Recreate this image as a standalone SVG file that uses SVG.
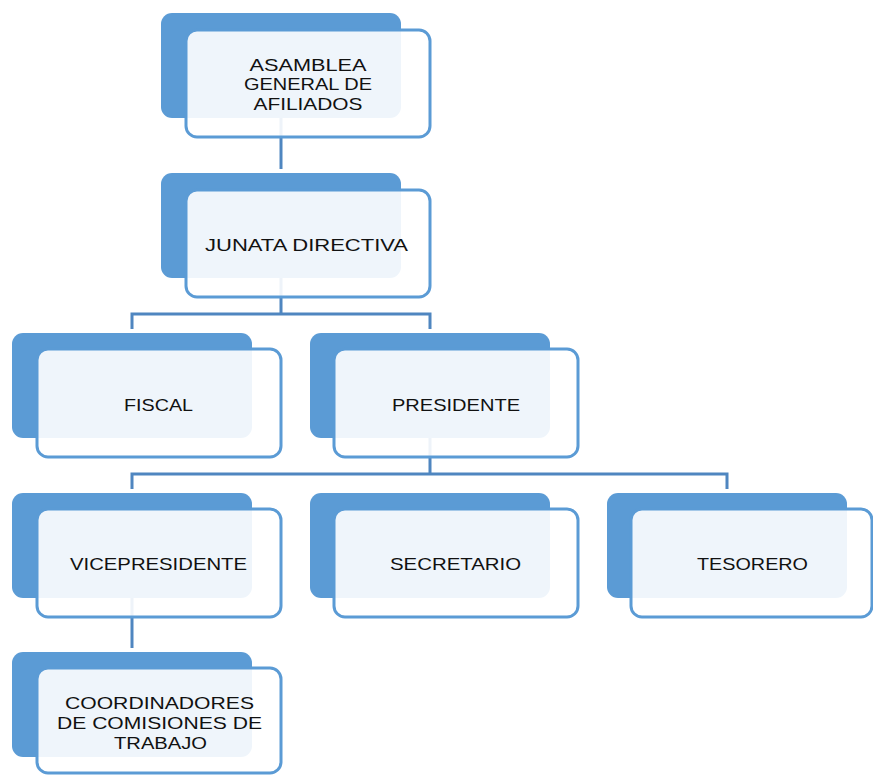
<svg xmlns="http://www.w3.org/2000/svg" width="873" height="775" viewBox="0 0 873 775">
<style>
.back{fill:#5b9bd5}
.front{fill:#ffffff;fill-opacity:0.9;stroke:#5b9bd5;stroke-width:3}
.lbl{font-family:"Liberation Sans",Arial,sans-serif;font-size:17px;fill:#111;text-anchor:middle}
.conn{fill:none;stroke:#4f86c0;stroke-width:3}
</style>
<rect width="873" height="775" fill="#ffffff"/>
<g id="connectors">
<path class="conn" d="M281,118 V169"/>
<path class="conn" d="M281,278 V314 M132,329 V314 H430 V329"/>
<path class="conn" d="M430,438 V474 M132,489 V474 H727 V489"/>
<path class="conn" d="M132,598 V648"/>
</g>
<g id="asamblea">
<rect class="back" x="161" y="13" width="240" height="105" rx="11"/>
<rect class="front" x="186" y="30" width="244" height="107" rx="11"/>
<text class="lbl" x="308" y="70.5" textLength="117" lengthAdjust="spacingAndGlyphs">ASAMBLEA</text>
<text class="lbl" x="308" y="90.3" textLength="128" lengthAdjust="spacingAndGlyphs">GENERAL DE</text>
<text class="lbl" x="308" y="110" textLength="109" lengthAdjust="spacingAndGlyphs">AFILIADOS</text>
</g>
<g id="junta">
<rect class="back" x="161" y="173" width="240" height="105" rx="11"/>
<rect class="front" x="186" y="190" width="244" height="107" rx="11"/>
<text class="lbl" x="306.5" y="250.5" textLength="203" lengthAdjust="spacingAndGlyphs">JUNATA DIRECTIVA</text>
</g>
<g id="fiscal">
<rect class="back" x="12" y="333" width="240" height="105" rx="11"/>
<rect class="front" x="37" y="349" width="244" height="108" rx="11"/>
<text class="lbl" x="158.5" y="410.5" textLength="69" lengthAdjust="spacingAndGlyphs">FISCAL</text>
</g>
<g id="presidente">
<rect class="back" x="310" y="333" width="240" height="105" rx="11"/>
<rect class="front" x="334" y="349" width="244" height="108" rx="11"/>
<text class="lbl" x="456" y="410.5" textLength="128" lengthAdjust="spacingAndGlyphs">PRESIDENTE</text>
</g>
<g id="vicepresidente">
<rect class="back" x="12" y="493" width="240" height="105" rx="11"/>
<rect class="front" x="37" y="509" width="244" height="108" rx="11"/>
<text class="lbl" x="158.5" y="569.5" textLength="177" lengthAdjust="spacingAndGlyphs">VICEPRESIDENTE</text>
</g>
<g id="secretario">
<rect class="back" x="310" y="493" width="240" height="105" rx="11"/>
<rect class="front" x="334" y="509" width="244" height="108" rx="11"/>
<text class="lbl" x="455.5" y="569.5" textLength="131" lengthAdjust="spacingAndGlyphs">SECRETARIO</text>
</g>
<g id="tesorero">
<rect class="back" x="607" y="493" width="240" height="105" rx="11"/>
<rect class="front" x="631" y="509" width="241" height="108" rx="11"/>
<text class="lbl" x="752.5" y="569.5" textLength="111" lengthAdjust="spacingAndGlyphs">TESORERO</text>
</g>
<g id="coordinadores">
<rect class="back" x="12" y="652" width="240" height="105" rx="11"/>
<rect class="front" x="37" y="668" width="244" height="105" rx="11"/>
<text class="lbl" x="159.5" y="709" textLength="189" lengthAdjust="spacingAndGlyphs">COORDINADORES</text>
<text class="lbl" x="159.5" y="729" textLength="205" lengthAdjust="spacingAndGlyphs">DE COMISIONES DE</text>
<text class="lbl" x="160.5" y="749" textLength="93" lengthAdjust="spacingAndGlyphs">TRABAJO</text>
</g>
</svg>
